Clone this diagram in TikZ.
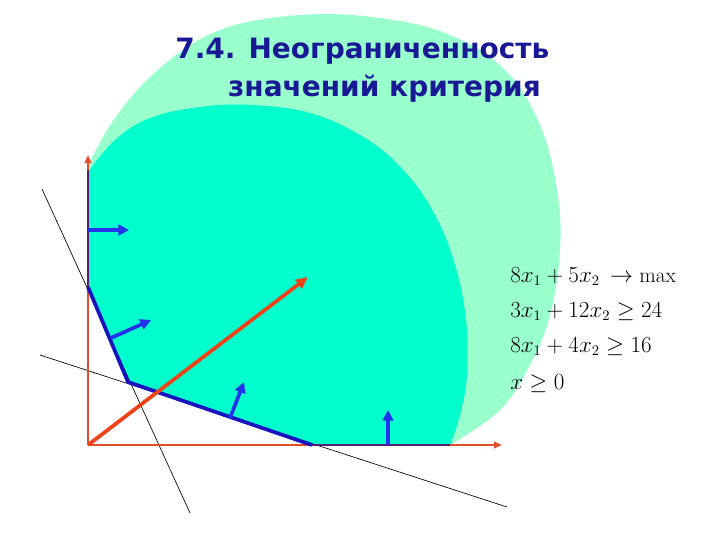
\documentclass[tikz,border=0pt]{standalone}
\usepackage{fontspec}
\usetikzlibrary{arrows.meta}
\newfontfamily\titlefont{DejaVu Sans}
\definecolor{pale}{HTML}{99FFCC}
\definecolor{inner}{HTML}{00FFCC}
\definecolor{axisred}{RGB}{225,80,45}
\definecolor{objred}{RGB}{240,65,25}
\definecolor{bndblue}{RGB}{25,20,190}
\definecolor{arrblue}{RGB}{35,50,235}
\definecolor{titleblue}{RGB}{25,25,150}
\definecolor{bnddark}{RGB}{90,30,110}
\tikzset{
  axisline/.style={draw=axisred, line width=1.5pt, -{Triangle[length=6pt,width=5pt]}},
  bndline/.style={draw=bndblue, line width=2.8pt, line join=round},
  bndthin/.style={draw=bnddark, line width=1.2pt},
  normalarrow/.style={draw=arrblue, line width=2.8pt, -{Triangle[length=8pt,width=8pt]}},
  objarrow/.style={draw=objred, line width=2.8pt, -{Triangle[length=9pt,width=8pt]}},
  cline/.style={draw=black, line width=0.5pt},
  titletext/.style={font=\titlefont\bfseries\fontsize{21}{25}\selectfont, text=titleblue, inner sep=0pt},
  eqtext/.style={font=\fontsize{16}{20}\selectfont, inner sep=0pt}
}
\begin{document}
\begin{tikzpicture}[x=0.75pt,y=-0.75pt]
\useasboundingbox (0,0) rectangle (720,540);
\fill[white] (0,0) rectangle (720,540);
\coordinate (O) at (88,445);
\coordinate (Ytop) at (88,155);
\coordinate (Xend) at (502,445);
\coordinate (A) at (88,170);
\coordinate (B) at (88,287);
\coordinate (C) at (128,382);
\coordinate (D) at (312,445);
\coordinate (E) at (450,445);
% outer pale region
\fill[pale] plot[smooth,tension=0.65] coordinates {(88,166) (115,118) (160,68) (220,30) (300,15) (380,18) (450,35) (505,70) (540,125) (557,190) (560,250) (550,315) (530,365) (500,410) (450,445)} -- (D) -- (C) -- (B) -- cycle;
% inner region
\fill[inner] plot[smooth,tension=0.65] coordinates {(88,172) (115,140) (150,118) (200,107) (250,105) (310,113) (365,138) (405,172) (435,215) (455,265) (466,320) (467,375) (460,415) (450,445)} -- (D) -- (C) -- (B) -- cycle;
% constraint lines
\coordinate (L1a) at (42,189);
\coordinate (L1b) at (190,513);
\coordinate (L2a) at (40,355);
\coordinate (L2b) at (507,507);
\draw[cline] (L1a) -- (L1b);
\draw[cline] (L2a) -- (L2b);
% axes
\draw[axisline] (O) -- (Ytop);
\draw[axisline] (O) -- (Xend);
% boundary
\draw[bndthin] (A) -- (B);
\draw[bndthin] (D) -- (E);
\draw[bndline] (B) -- (C) -- (D);
% objective vector
\coordinate (G) at (308,277);
\draw[objarrow] (O) -- (G);
% normal arrows
\coordinate (n1a) at (88,230);
\coordinate (n1b) at (129,230);
\coordinate (n2a) at (111,338);
\coordinate (n2b) at (151,320);
\coordinate (n3a) at (230,418);
\coordinate (n3b) at (244,382);
\coordinate (n4a) at (388,445);
\coordinate (n4b) at (388,410);
\draw[normalarrow] (n1a) -- (n1b);
\draw[normalarrow] (n2a) -- (n2b);
\draw[normalarrow] (n3a) -- (n3b);
\draw[normalarrow] (n4a) -- (n4b);
% title
\node[titletext, anchor=base west] (t1) at (175,58) {7.4. Неограниченность};
\node[titletext, anchor=base east] (t2) at (541,96) {значений критерия};
% equations
\node[eqtext, anchor=base west] (eq1) at (510,282) {$8x_1+5x_2\,\rightarrow\max$};
\node[eqtext, anchor=base west] (eq2) at (510,317) {$3x_1+12x_2\geq 24$};
\node[eqtext, anchor=base west] (eq3) at (510,352) {$8x_1+4x_2\geq 16$};
\node[eqtext, anchor=base west] (eq4) at (510,389) {$x\geq 0$};
\end{tikzpicture}
\end{document}
